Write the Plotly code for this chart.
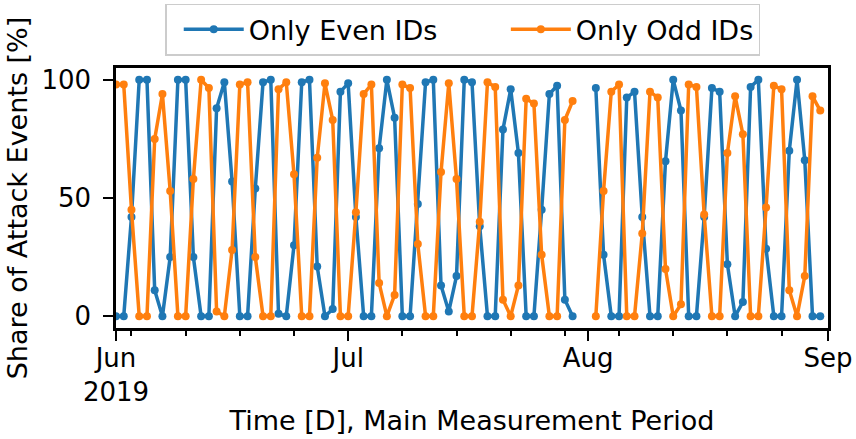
import pandas as pd
import plotly.graph_objects as go

dates = pd.date_range("2019-06-01", "2019-08-31", freq="D")

only_even = [0, 0, 42, 100, 100, 11, 0, 25, 100, 100,
             25, 0, 0, 88, 99, 57, 0, 0, 54, 99,
             100, 1, 0, 30, 99, 100, 21, 0, 3, 95,
             98.5, 42, 0, 0, 71, 100, 84, 0, 0, 47.5,
             99, 100, 13, 2, 17, 100, 99, 38, 0, 0,
             79, 96, 69, 0, 0, 45, 94, 97.5, 7, 0,
             None, None, 96.5, 26, 0, 0, 92.5, 95, 42, 0,
             0, 65.5, 100, 87, 0, 0, 42, 96.5, 95, 22,
             0, 6, 97, 100, 28.5, 0, 0, 70, 100, 66,
             0, 0]

only_odd = [98, 98, 45, 0, 0, 75, 94, 53, 0, 0,
            58, 100, 96.5, 2, 0, 28, 98, 99, 25, 0,
            0, 96, 99, 60, 0, 0, 67, 98.5, 83, 0,
            0, 44, 94, 98, 14, 0, 9, 98, 96.5, 30.5,
            0, 0, 61, 98.5, 58, 0, 0, 40, 99, 97,
            7, 0, 13, 92, 90, 26, 0, 0, 83, 91,
            None, None, 0, 53, 95, 98, 0, 0, 35, 95,
            92.5, 20, 0, 5, 98, 97, 43, 0, 0, 69,
            93, 77, 0, 0, 46, 97.5, 96, 11, 0, 17,
            93, 87]

major_ticks = ["2019-06-01", "2019-07-01", "2019-08-01", "2019-09-01"]
major_labels = ["Jun<br>2019", "Jul", "Aug", "Sep"]
minor_ticks = ["2019-06-03", "2019-06-10", "2019-06-17", "2019-06-24",
               "2019-07-08", "2019-07-15", "2019-07-22", "2019-07-29",
               "2019-08-05", "2019-08-12", "2019-08-19", "2019-08-26"]
y_ticks = [0, 50, 100]

FONT = "DejaVu Sans"
FS = 27
TICK_FS = 26
GAP = "\u00a0" * 6

fig = go.Figure()
fig.add_trace(go.Scatter(x=dates, y=only_even, name="Only Even IDs" + GAP,
                         mode="lines+markers", connectgaps=False,
                         line=dict(color="#1f77b4", width=3.5),
                         marker=dict(color="#1f77b4", size=8)))
fig.add_trace(go.Scatter(x=dates, y=only_odd, name="Only Odd IDs",
                         mode="lines+markers", connectgaps=False,
                         line=dict(color="#ff7f0e", width=3.5),
                         marker=dict(color="#ff7f0e", size=8)))

axis_common = dict(showline=True, mirror=True, linecolor="black", linewidth=2.5,
                   ticks="outside", ticklen=10, tickwidth=2, tickcolor="black",
                   showgrid=False, zeroline=False, automargin=False,
                   tickfont=dict(family=FONT, size=TICK_FS, color="black"))

fig.update_layout(
    width=856, height=439,
    margin=dict(l=116, r=28, t=68, b=111, autoexpand=False),
    plot_bgcolor="white", paper_bgcolor="white",
    font=dict(family=FONT, size=FS, color="black"),
    xaxis=dict(type="date", range=["2019-06-01", "2019-09-01"],
               tickmode="array", tickvals=major_ticks, ticktext=major_labels,
               ticklabelstandoff=-5,
               minor=dict(tickmode="array", tickvals=minor_ticks, ticks="outside",
                          ticklen=5, tickwidth=1.5, tickcolor="black", showgrid=False),
               title=dict(text="Time [D], Main Measurement Period",
                          font=dict(family=FONT, size=FS, color="black"), standoff=6),
               **axis_common),
    yaxis=dict(range=[-5, 105], tickmode="array", tickvals=y_ticks,
               ticklabelstandoff=7,
               title=dict(text="Share of Attack Events [%]",
                          font=dict(family=FONT, size=FS, color="black"), standoff=6),
               **axis_common),
    legend=dict(orientation="h", x=0.487, xanchor="center", y=1.247, yanchor="top",
                bordercolor="#cccccc", borderwidth=1.5, bgcolor="white",
                font=dict(family=FONT, size=FS, color="black"), itemwidth=60,
                indentation=12),
    showlegend=True,
)

fig.write_html("out.html", config={"displayModeBar": False},
               post_script="document.body.style.margin='0px';")
